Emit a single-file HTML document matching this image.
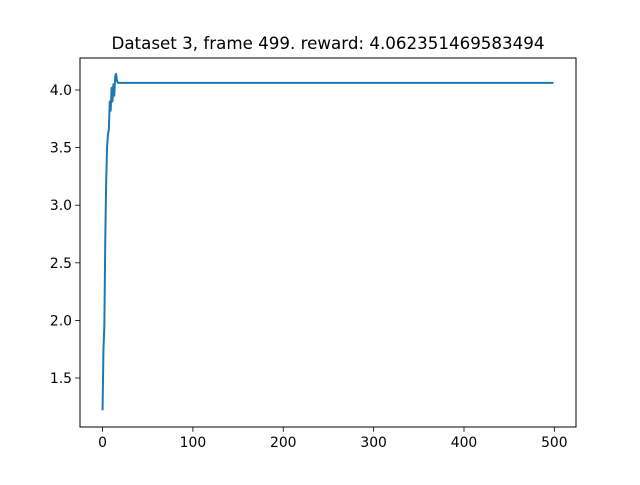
<!DOCTYPE html>
<html><head><meta charset="utf-8"><style>
body{margin:0;background:#fff;}
svg text{font-family:"DejaVu Sans","Liberation Sans",sans-serif;fill:#000;}
</style></head><body>
<svg id="chart" width="640" height="480" xmlns="http://www.w3.org/2000/svg">
<rect width="640" height="480" fill="#fff"/>
<text x="328" y="49" font-size="16.7" text-anchor="middle">Dataset 3, frame 499. reward: 4.062351469583494</text>
<g id="plot"></g>
<rect x="80" y="58" width="496" height="369" fill="none" stroke="#000" stroke-width="1"/>
</svg>
<script>
const frames = [0,1,2,3,4,5,6,7,8,9,10,11,12,13,14,15,16,17,499];
const rewards = [1.22,1.75,1.95,2.7,3.2,3.5,3.62,3.66,3.9,3.82,4.02,3.9,4.05,3.95,4.12,4.14,4.08,4.0624,4.0624];
const xTicks = [0,100,200,300,400,500];
const yTicks = [1.5,2.0,2.5,3.0,3.5,4.0];
const yTickLabels = ["1.5","2.0","2.5","3.0","3.5","4.0"];

const X0=80,X1=576,Y0=427,Y1=58;
const xmin=-24.95,xmax=523.95,ymin=1.0748,ymax=4.2778;
const sx=v=>X0+(v-xmin)/(xmax-xmin)*(X1-X0);
const sy=v=>Y0-(v-ymin)/(ymax-ymin)*(Y0-Y1);
const NS="http://www.w3.org/2000/svg";
const g=document.getElementById('plot');
function mk(t,a){const e=document.createElementNS(NS,t);for(const k in a)e.setAttribute(k,a[k]);g.appendChild(e);return e;}
xTicks.forEach(v=>{
  const x=sx(v);
  const l=mk('line',{x1:x,x2:x,y1:Y0,y2:Y0+4.9,stroke:'#000','stroke-width':0.8});
  
  
  const t=mk('text',{x:x,y:Y0+20,'font-size':13.9,'text-anchor':'middle'});
  t.textContent=v;
  
  
});
yTicks.forEach((v,i)=>{
  const y=sy(v);
  const l=mk('line',{x1:X0-4.9,x2:X0,y1:y,y2:y,stroke:'#000','stroke-width':0.8});
  
  
  const t=mk('text',{x:X0-8,y:y+5,'font-size':13.9,'text-anchor':'end'});
  t.textContent=yTickLabels[i];
  
  
});
const pts=frames.map((f,i)=>sx(f).toFixed(2)+','+sy(rewards[i]).toFixed(2)).join(' ');
const p=mk('polyline',{points:pts,fill:'none',stroke:'#1f77b4','stroke-width':2,'stroke-linejoin':'round'});


</script>
</body></html>
